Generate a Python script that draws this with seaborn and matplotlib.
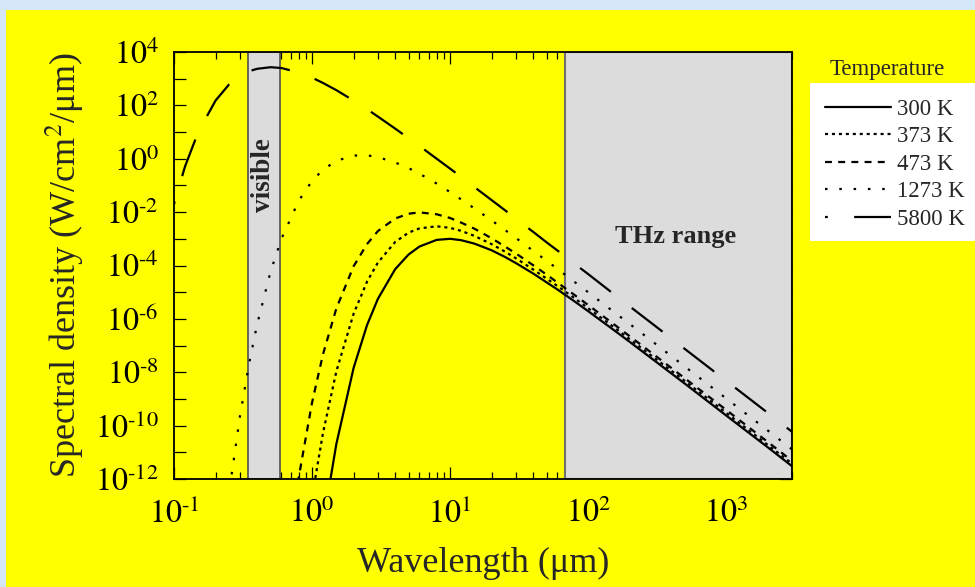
import numpy as np
import pandas as pd
import matplotlib
matplotlib.use("Agg")
import matplotlib.pyplot as plt
import seaborn as sns
from matplotlib.patches import Rectangle
from matplotlib.lines import Line2D
from matplotlib.ticker import NullLocator, LogLocator, NullFormatter

# wavelength samples (um) and log10 of spectral density
wl = [0.1, 0.12, 0.15, 0.2, 0.25, 0.3, 0.35, 0.4, 0.5, 0.6, 0.8, 1, 1.2, 1.5, 2, 2.5, 3, 4, 5, 6,
      8, 10, 12, 15, 20, 25, 30, 40, 50, 60, 80, 100, 150, 200, 300, 500, 1000, 2000, 3000]
nan = np.nan
log_300 = [nan] * 11 + [-16.75, -13.68, -10.69, -7.84, -6.24, -5.25, -4.14, -3.59, -3.29, -3.04,
                        -3.00, -3.05, -3.18, -3.43, -3.68, -3.91, -4.30, -4.63, -4.90, -5.35,
                        -5.71, -6.38, -6.86, -7.55, -8.42, -9.62, -10.81, -11.52]
log_373 = [nan] * 10 + [-16.38, -12.68, -10.28, -7.97, -5.81, -4.61, -3.89, -3.12, -2.77, -2.61,
                        -2.53, -2.59, -2.70, -2.89, -3.20, -3.48, -3.73, -4.15, -4.49, -4.77,
                        -5.23, -5.60, -6.27, -6.76, -7.45, -8.32, -9.52, -10.72, -11.42]
log_473 = [nan] * 9 + [-16.83, -11.95, -9.14, -7.33, -5.61, -4.03, -3.20, -2.71, -2.24, -2.06,
                       -2.01, -2.08, -2.22, -2.39, -2.62, -2.98, -3.29, -3.55, -3.99, -4.34,
                       -4.64, -5.11, -5.48, -6.16, -6.65, -7.34, -8.22, -9.41, -10.61, -11.32]
log_1273 = [nan] * 3 + [-16.97, -12.55, -9.67, -7.67, -6.21, -4.24, -3.00, -1.58, -0.83, -0.41,
                        -0.08, 0.12, 0.13, 0.06, -0.14, -0.35, -0.56, -0.93, -1.25, -1.52,
                        -1.86, -2.31, -2.67, -2.97, -3.45, -3.82, -4.13, -4.62, -5.00, -5.70,
                        -6.19, -6.89, -7.78, -8.98, -10.18, -10.89]
log_5800 = [-1.70, -0.30, 1.01, 2.18, 2.78, 3.10, 3.28, 3.37, 3.43, 3.40, 3.23, 3.04, 2.84, 2.57,
            2.18, 1.86, 1.58, 1.13, 0.77, 0.48, 0.00, -0.37, -0.68, -1.06, -1.55, -1.93, -2.25,
            -2.74, -3.13, -3.44, -3.94, -4.32, -5.03, -5.53, -6.23, -7.12, -8.32, -9.52, -10.23]

temps = ['300 K', '373 K', '473 K', '1273 K', '5800 K']
series = [log_300, log_373, log_473, log_1273, log_5800]

visible_band = (0.342, 0.583)
thz_band = (68, 3000)

rows = []
for t, s in zip(temps, series):
    for x, v in zip(wl, s):
        rows.append({'wl': x, 'dens': 10.0 ** v, 'T': t})
df = pd.DataFrame(rows)

sns.set_style("ticks")
plt.rcParams['font.family'] = ['Liberation Serif', 'DejaVu Serif']
plt.rcParams['mathtext.fontset'] = 'stix'
plt.rcParams['lines.scale_dashes'] = False

fig = plt.figure(figsize=(9.75, 5.87), dpi=100)
fig.patch.set_facecolor('#d7e7fa')
fig.add_artist(Rectangle((6 / 975, 0), 969 / 975, 577 / 587, transform=fig.transFigure,
                         facecolor='#ffff00', edgecolor='none', zorder=-2))
fig.add_artist(Rectangle((810 / 975, 1 - 241 / 587), 165 / 975, 158 / 587, transform=fig.transFigure,
                         facecolor='white', edgecolor='none', zorder=-1))

ax = fig.add_axes([174 / 975, 108 / 587, 618 / 975, 427 / 587])
ax.set_facecolor('#ffff00')
ax.set_xscale('log')
ax.set_yscale('log')

ax.axvspan(*visible_band, facecolor='#dcdcdc', edgecolor='#505050', lw=1.2, zorder=1)
ax.axvspan(*thz_band, facecolor='#dcdcdc', edgecolor='#707070', lw=1.5, zorder=1)

dash_styles = {'300 K': '', '373 K': (2.2, 2.8), '473 K': (5, 4.5),
               '1273 K': (1.8, 8.5), '5800 K': (28, 19)}
sns.lineplot(data=df, x='wl', y='dens', hue='T', style='T', hue_order=temps, style_order=temps,
             palette=['black'] * 5, dashes=dash_styles, estimator=None, errorbar=None,
             lw=1.6, legend=False, ax=ax, zorder=3)
# long dash starts with a short stub, as in the original
ax.lines[-1].set_linestyle((26, (28, 19)))

ax.set_xlim(0.1, 3000)
ax.set_ylim(1e-12, 1e4)


def sup(k):
    # exponent with a short hyphen like the original
    if k < 0:
        return '$10^{\\text{-}%d}$' % (-k)
    return '$10^{%d}$' % k


ax.set_xticks([0.1, 1, 10, 100, 1000])
ax.set_xticklabels([sup(k) for k in [-1, 0, 1, 2, 3]])
ax.xaxis.set_minor_locator(LogLocator(base=10, subs=np.arange(2, 10)))
ax.xaxis.set_minor_formatter(NullFormatter())
yexp = list(range(-12, 5))
ax.set_yticks([10.0 ** k for k in yexp])
ax.set_yticklabels([sup(k) if k % 2 == 0 else '' for k in yexp])
ax.yaxis.set_minor_locator(NullLocator())

ax.tick_params(which='both', direction='in', top=True, right=True, width=0.9, colors='black')
ax.tick_params(which='major', length=8.6, labelsize=23)
ax.tick_params(axis='y', which='major', pad=11)
ax.tick_params(axis='x', which='major', pad=14)
ax.tick_params(which='minor', length=5)
for sp in ax.spines.values():
    sp.set_linewidth(1.3)
    sp.set_color('black')
    sp.set_zorder(5)

ax.set_xlabel('Wavelength (μm)', fontsize=26)
ax.set_ylabel('Spectral density (W/cm$^2$/μm)', fontsize=26)
ax.xaxis.set_label_coords(0.5, -0.16)
ax.yaxis.set_label_coords(-0.143, 0.5)

ax.text(np.sqrt(visible_band[0] * visible_band[1]), 10 ** -0.61, 'visible', rotation=90,
        ha='center', va='center', fontsize=19.5, fontweight='bold', zorder=4)
ax.text(427, 10 ** -2.93, 'THz range', ha='center', va='center', fontsize=19,
        fontweight='bold', zorder=4)

handles = [Line2D([], [], color='black', lw=1.6, linestyle='-'),
           Line2D([], [], color='black', lw=1.6, linestyle=(0, (2.2, 2.8))),
           Line2D([], [], color='black', lw=1.6, linestyle=(0, (5, 4.5))),
           Line2D([], [], color='black', lw=1.6, linestyle=(0, (1.8, 8.5))),
           Line2D([], [], color='black', lw=1.6, linestyle=(26, (28, 19)))]
fig.text(887 / 975, 1 - 69 / 587, 'Temperature', ha='center', va='center', fontsize=16.5)
fig.legend(handles, temps, loc='upper left', bbox_to_anchor=(825 / 975, 1 - 99 / 587),
           frameon=False, fontsize=16.5, handlelength=2.9, handletextpad=0.25,
           labelspacing=0.28, borderpad=0, borderaxespad=0)

fig.savefig('out.png', dpi=100)
